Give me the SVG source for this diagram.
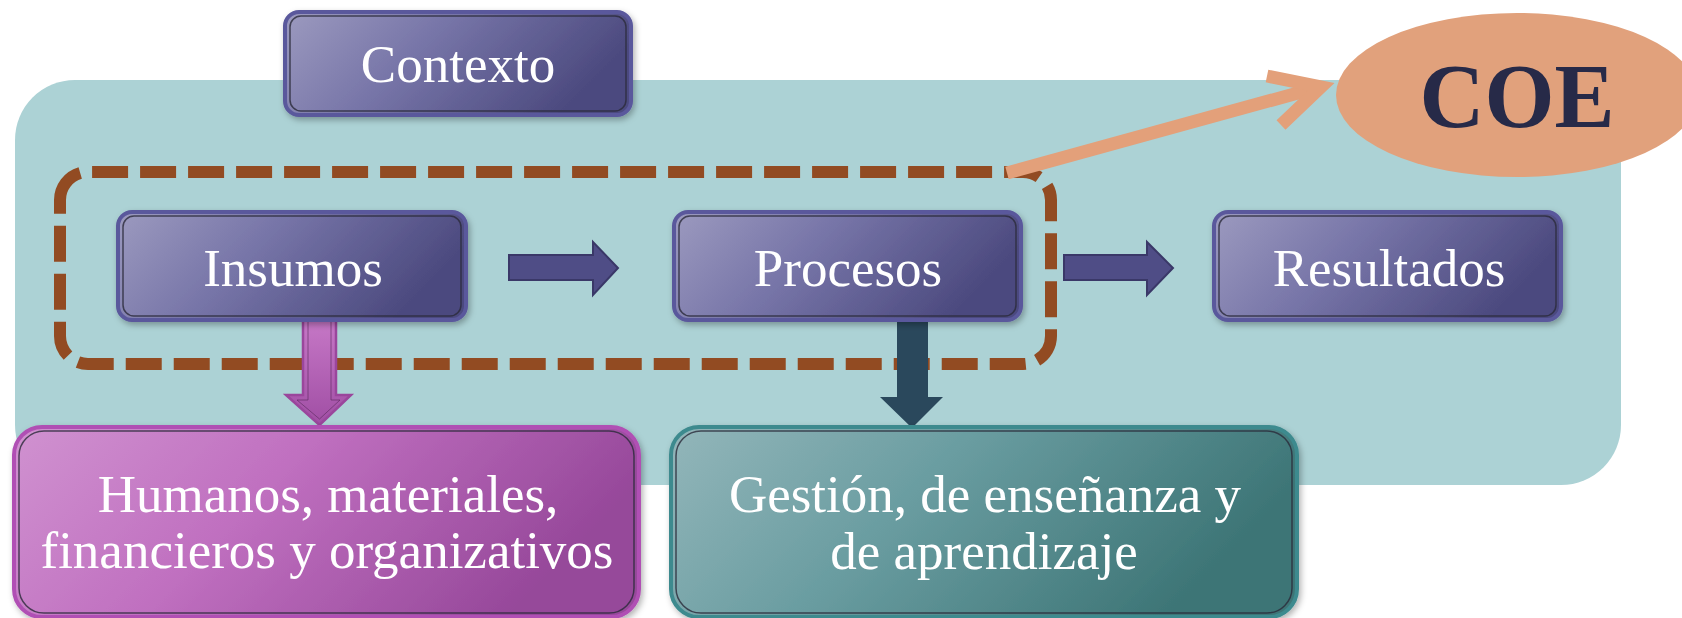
<svg xmlns="http://www.w3.org/2000/svg" width="1682" height="618" viewBox="0 0 1682 618">
<defs>
<linearGradient id="gBlue" x1="0" y1="0" x2="1" y2="0.3">
<stop offset="0" stop-color="#9c9abf"/>
<stop offset="0.45" stop-color="#7775a8"/>
<stop offset="1" stop-color="#4c4a7f"/>
</linearGradient>
<linearGradient id="gPurple" x1="0" y1="0" x2="1" y2="0.3">
<stop offset="0" stop-color="#d092d0"/>
<stop offset="0.45" stop-color="#c070c0"/>
<stop offset="1" stop-color="#96489a"/>
</linearGradient>
<linearGradient id="gTeal" x1="0" y1="0" x2="1" y2="0.3">
<stop offset="0" stop-color="#93b6ba"/>
<stop offset="0.45" stop-color="#6a9da1"/>
<stop offset="1" stop-color="#3d7576"/>
</linearGradient>
<linearGradient id="gPurpleArrow" x1="0" y1="0" x2="0" y2="1">
<stop offset="0" stop-color="#c87ac8"/>
<stop offset="1" stop-color="#a04ea4"/>
</linearGradient>
<filter id="sh" x="-10%" y="-10%" width="120%" height="130%">
<feDropShadow dx="2" dy="3" stdDeviation="3" flood-color="#000" flood-opacity="0.3"/>
</filter>
</defs>
<style>
.lbl{font-family:"Liberation Serif","Times New Roman",serif;font-size:53px;fill:#ffffff;text-anchor:middle}
.inner{fill:none;stroke:#2a2a3a;stroke-width:1.5;stroke-opacity:0.8}
.blue{fill:url(#gBlue);stroke:#5a589c;stroke-width:4}
.purple{fill:url(#gPurple);stroke:#b050b4;stroke-width:4}
.teal{fill:url(#gTeal);stroke:#3d8a8e;stroke-width:4}
.rarrow{fill:#4f4d86;stroke:#3a3868;stroke-width:2}
</style>
<rect x="0" y="0" width="1682" height="618" fill="#ffffff"/>
<g id="background">
<rect x="15" y="80" width="1606" height="405" rx="60" ry="60" fill="#acd2d5"/>
</g>
<g id="context">
<rect class="blue" x="285" y="12" width="346" height="103" rx="14" filter="url(#sh)"/>
<rect class="inner" x="290" y="16" width="336" height="95" rx="11"/>
<text class="lbl" x="458" y="82">Contexto</text>
</g>
<g id="connectors">
<path d="M60 200 A28 28 0 0 1 88 172 L1023 172 A28 28 0 0 1 1051 200 L1051 336 A28 28 0 0 1 1023 364 L88 364 A28 28 0 0 1 60 336 Z" fill="none" stroke="#924b22" stroke-width="12" stroke-dasharray="36 12"/>
<path class="rarrow" d="M509 255 L593 255 L593 242 L618 268 L593 295 L593 280 L509 280 Z"/>
<path class="rarrow" d="M1064 255 L1147 255 L1147 242 L1173 268 L1147 295 L1147 280 L1064 280 Z"/>
<path d="M303 315 L336 315 L336 395 L351 395 L319.5 425 L286 395 L303 395 Z" fill="url(#gPurpleArrow)" stroke="#9a469c" stroke-width="2.5"/>
<path d="M308 320 L331 320 L331 400 L340 400 L319.5 419 L297 400 L308 400 Z" fill="none" stroke="#5a2a5e" stroke-width="1" stroke-opacity="0.6"/>
<path d="M897 315 L928 315 L928 397 L943 397 L912 428 L880 397 L897 397 Z" fill="#2a485c"/>
<path d="M1007 173 L1316 88" fill="none" stroke="#e3a07a" stroke-width="13"/>
<path d="M1267 76 L1321 87 L1281 125" fill="none" stroke="#e3a07a" stroke-width="13" stroke-linejoin="miter"/>
</g>
<g id="insumos">
<rect class="blue" x="118" y="212" width="348" height="108" rx="14" filter="url(#sh)"/>
<rect class="inner" x="123" y="216" width="338" height="100" rx="11"/>
<text class="lbl" x="293" y="286">Insumos</text>
</g>
<g id="procesos">
<rect class="blue" x="674" y="212" width="347" height="108" rx="14" filter="url(#sh)"/>
<rect class="inner" x="679" y="216" width="337" height="100" rx="11"/>
<text class="lbl" x="848" y="286">Procesos</text>
</g>
<g id="resultados">
<rect class="blue" x="1214" y="212" width="347" height="108" rx="14" filter="url(#sh)"/>
<rect class="inner" x="1219" y="216" width="337" height="100" rx="11"/>
<text class="lbl" x="1389" y="286">Resultados</text>
</g>
<g id="coe">
<ellipse cx="1517" cy="95" rx="181" ry="82" fill="#e1a17c"/>
<text x="1517" y="127" font-family="'Liberation Serif','Times New Roman',serif" font-size="90" font-weight="bold" fill="#272a48" text-anchor="middle">COE</text>
</g>
<g id="humanos">
<rect class="purple" x="14" y="427" width="625" height="190" rx="28" filter="url(#sh)"/>
<rect class="inner" x="19" y="431" width="615" height="182" rx="25"/>
<text class="lbl" x="328" y="512">Humanos, materiales,</text>
<text class="lbl" x="327" y="568">financieros y organizativos</text>
</g>
<g id="gestion">
<rect class="teal" x="671" y="427" width="626" height="190" rx="28" filter="url(#sh)"/>
<rect class="inner" x="676" y="431" width="616" height="182" rx="25"/>
<text class="lbl" x="985" y="512">Gestión, de enseñanza y</text>
<text class="lbl" x="984" y="569">de aprendizaje</text>
</g>
</svg>
